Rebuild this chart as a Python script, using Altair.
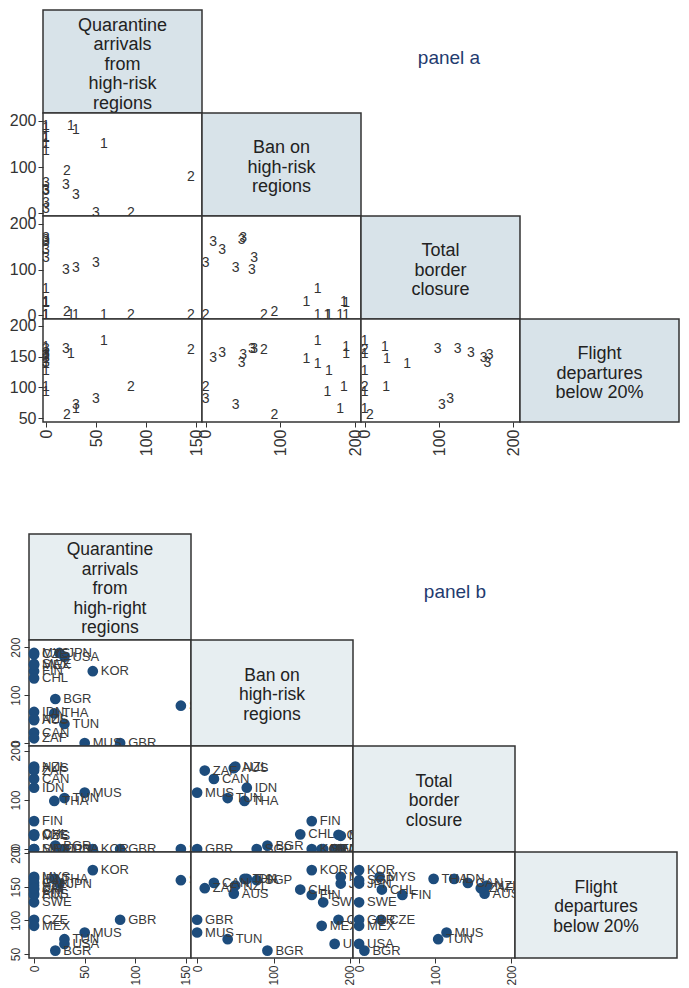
import altair as alt
import pandas as pd

FONT = "Liberation Sans"

countries  = ["MYS", "JPN", "USA", "KOR", "FIN", "CHL", "CZE", "MEX", "SWE", "BGR",
              "SGP", "GBR", "IDN", "THA", "AUS", "NZL", "TUN", "CAN", "ZAF", "MUS"]
quarantine = [0, 25, 30, 58, 0, 0, 0, 0, 0, 21, 145, 85, 0, 20, 0, 0, 30, 0, 0, 50]
ban        = [188, 188, 180, 150, 150, 135, 185, 163, 165, 92, 78, 0, 65, 62, 48, 50, 40, 22, 10, 0]
border     = [27, 0, 0, 0, 57, 30, 29, 0, 0, 7, 0, 0, 125, 98, 165, 168, 104, 143, 160, 115]
flights    = [165, 155, 65, 175, 138, 146, 101, 92, 127, 55, 160, 101, 162, 162, 140, 152, 72, 156, 148, 82]
cluster    = [1, 1, 1, 1, 1, 1, 1, 1, 1, 2, 2, 2, 3, 3, 3, 3, 3, 3, 3, 3]

labels_a = [["Quarantine", "arrivals", "from", "high-risk", "regions"],
            ["Ban on", "high-risk", "regions"],
            ["Total", "border", "closure"],
            ["Flight", "departures", "below 20%"]]
labels_b = [["Quarantine", "arrivals", "from", "high-right", "regions"],
            ["Ban on", "high-risk", "regions"],
            ["Total", "border", "closure"],
            ["Flight", "departures", "below 20%"]]

df = pd.DataFrame({"country": countries, "Q": quarantine, "B": ban, "T": border,
                   "F": flights, "cl": [str(c) for c in cluster]})

VARS = ["Q", "B", "T", "F"]
TICKS = {"Q": [0, 50, 100, 150], "B": [0, 100, 200], "T": [0, 100, 200], "F": [50, 100, 150, 200]}

SPEC = {
    "a": dict(W=159, H=103, fill="#d8e3e9", lead=14, diagSize=18, LH=19.5, dy0=3,
              xdom={"Q": [-3, 156], "B": [-5, 208], "T": [-5, 209]},
              ydom={"B": [-6, 217], "T": [-8, 217], "F": [44, 211]},
              ylabAngle=0, labSize=16, title="panel a", labels=labels_a,
              tx=88, ty=48),
    "b": dict(W=162, H=106, fill="#e7eef1", lead=0, diagSize=17.5, LH=19.5, dy0=2,
              xdom={"Q": [-5, 155], "B": [-8, 204], "T": [-8, 205]},
              ydom={"B": [-6, 215], "T": [-6, 210], "F": [44, 202]},
              ylabAngle=270, labSize=12, title="panel b", labels=labels_b,
              tx=102, ty=58),
}

BORDER = "#333333"


def scatter(p, xv, yv, col, row):
    s = SPEC[p]
    if row == 3:
        xaxis = alt.Axis(values=TICKS[xv], labelAngle=270, labelFontSize=s["labSize"], tickSize=5,
                         labelPadding=2, title=None, grid=False, domain=False,
                         labelFont=FONT, labelColor="#333333", tickColor="#333333")
    else:
        xaxis = None
    if col == 0:
        yaxis = alt.Axis(values=TICKS[yv], labelAngle=s["ylabAngle"], labelFontSize=s["labSize"], tickSize=5,
                         labelPadding=2, title=None, grid=False, domain=False,
                         labelFont=FONT, labelColor="#333333", tickColor="#333333")
    else:
        yaxis = None
    base = alt.Chart(df).encode(
        x=alt.X(f"{xv}:Q", scale=alt.Scale(domain=s["xdom"][xv], nice=False, zero=False), axis=xaxis),
        y=alt.Y(f"{yv}:Q", scale=alt.Scale(domain=s["ydom"][yv], nice=False, zero=False), axis=yaxis),
    )
    if p == "a":
        ch = base.mark_text(font=FONT, fontSize=14, color="#333333",
                            align="center", baseline="middle").encode(text="cl:N")
    else:
        pts = base.mark_circle(size=115, color="#1d4c7c", opacity=1)
        lbl = base.mark_text(font=FONT, fontSize=13, color="#3a3a3a", align="left",
                             baseline="middle", dx=8).encode(text="country:N")
        ch = alt.layer(pts, lbl)
    return ch.properties(width=s["W"], height=s["H"],
                         view=alt.ViewBackground(fill="white", stroke=BORDER, strokeWidth=1.5))


def diag(p, i):
    s = SPEC[p]
    lines = s["labels"][i]
    n = len(lines)
    layers = []
    for k, line in enumerate(lines):
        yk = s["H"] / 2 + s["dy0"] + (k - (n - 1) / 2) * s["LH"]
        layers.append(
            alt.Chart(alt.Data(values=[{"t": line}])).mark_text(
                font=FONT, fontSize=s["diagSize"], color="#222222", align="center", baseline="middle"
            ).encode(text="t:N", x=alt.value(s["W"] / 2), y=alt.value(yk))
        )
    return alt.layer(*layers).properties(
        width=s["W"], height=s["H"],
        view=alt.ViewBackground(fill=s["fill"], stroke=BORDER, strokeWidth=1.5))


def blank(p, txt, w=None):
    s = SPEC[p]
    return alt.Chart(alt.Data(values=[{"t": txt}])).mark_text(
        font=FONT, fontSize=19, color="#1f3b6f", align="center", baseline="middle"
    ).encode(text="t:N", x=alt.value(s["tx"]), y=alt.value(s["ty"])).properties(
        width=w if w is not None else s["W"], height=s["H"],
        view=alt.ViewBackground(fill="transparent", stroke="transparent", strokeWidth=0))


def panel(p):
    s = SPEC[p]
    cells = []
    ncol = 5 if s["lead"] else 4
    for r in range(4):
        if s["lead"]:
            cells.append(blank(p, " ", w=s["lead"]))
        for c in range(4):
            if c < r:
                cells.append(scatter(p, VARS[c], VARS[r], c, r))
            elif c == r:
                cells.append(diag(p, r))
            elif r == 0 and c == 2:
                cells.append(blank(p, s["title"]))
            else:
                cells.append(blank(p, " "))
    return alt.concat(*cells, columns=ncol, spacing=0, bounds="flush")


chart = alt.concat(panel("a"), panel("b"), columns=1, spacing=76).properties(
    padding={"left": 0, "top": 1, "right": 0, "bottom": 0}
).configure(background="white").configure_view(strokeWidth=1.5)

chart.save("out.html", embed_options={"renderer": "svg", "actions": False})
